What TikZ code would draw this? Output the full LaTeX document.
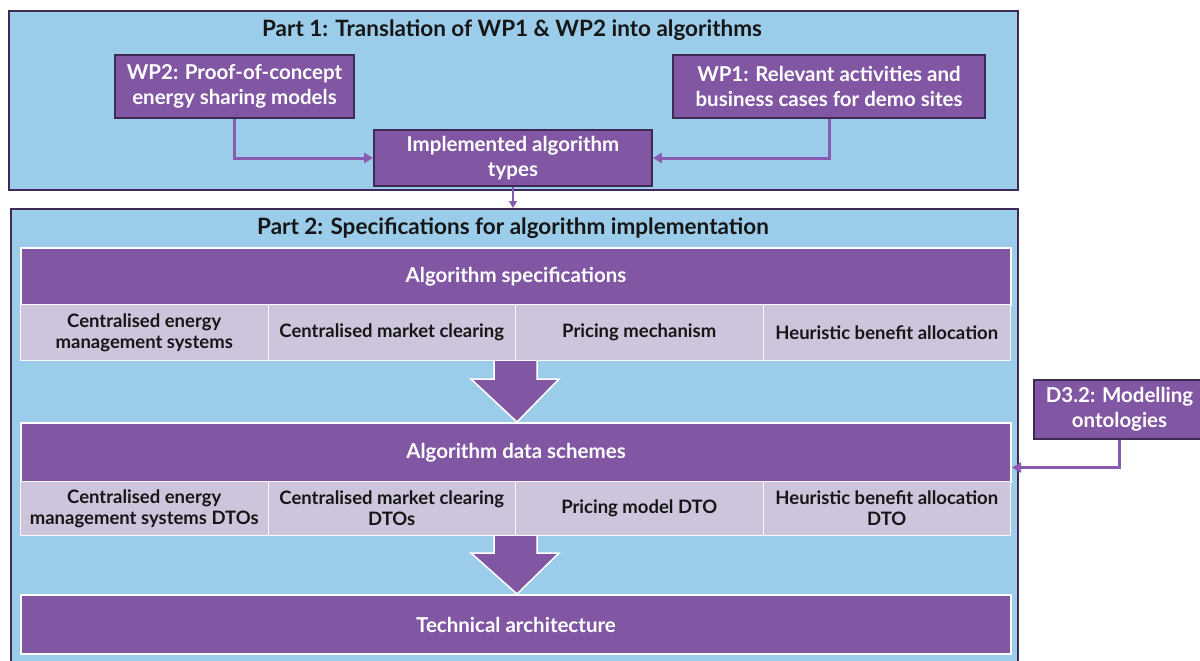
\documentclass[tikz,border=0pt]{standalone}
\usepackage{fontspec}
\setmainfont{Lato}
\usetikzlibrary{arrows.meta,calc}
\definecolor{skyfill}{HTML}{9BCDEB}
\definecolor{plum}{HTML}{8157A4}
\definecolor{lavcell}{HTML}{CEC4DC}
\definecolor{darkedge}{HTML}{3D2B55}
\definecolor{linkpurple}{HTML}{8A5BB0}
\definecolor{inktext}{HTML}{161616}
\tikzset{
  partbox/.style={draw=darkedge, line width=2pt, fill=skyfill, anchor=north west, inner sep=0pt},
  parttitle/.style={font=\bfseries\fontsize{22.5}{26}\selectfont, text=inktext, inner sep=0pt},
  srcbox/.style={draw=darkedge, line width=1.8pt, fill=plum, text=white, align=center,
    font=\bfseries\fontsize{20.5}{25}\selectfont, inner sep=0pt},
  band/.style={draw=white, line width=2pt, fill=plum, text=white, anchor=north west,
    font=\bfseries\fontsize{20.5}{24}\selectfont, inner sep=0pt, minimum width=990pt},
  cell/.style={draw=white!88!lavcell, line width=1pt, fill=lavcell, text=inktext, align=center,
    anchor=north west, font=\bfseries\fontsize{18.5}{21}\selectfont, inner sep=0pt,
    minimum width=247.5pt},
  conn/.style={draw=linkpurple, line width=3pt, -{Triangle[length=9pt,width=10pt]}},
  blockarrow/.style={fill=plum, draw=white, line width=1.5pt, line join=miter},
}
\begin{document}
\begin{tikzpicture}[x=1pt,y=-1pt]
\useasboundingbox (0,0) rectangle (1200,661);
\clip (0,0) rectangle (1200,661);

% Part 1 frame
\node[partbox, minimum width=1009pt, minimum height=179pt] (p1) at (8,10) {};
\node[parttitle] (t1) at (512,30) {Part 1: Translation of WP1 \& WP2 into algorithms};

\node[srcbox, minimum width=239pt, minimum height=63pt] (wp2) at (234.5,86.5)
  {WP2: Proof-of-concept\\energy sharing models};
\node[srcbox, minimum width=312pt, minimum height=63pt] (wp1) at (829,86.5)
  {WP1: Relevant activities and\\business cases for demo sites};
\node[srcbox, minimum width=278pt, minimum height=56pt] (impl) at (513,158)
  {Implemented algorithm\\types};

% Part 2 frame (runs past the lower edge)
\node[partbox, minimum width=1007pt, minimum height=480pt] (p2) at (10,208) {};
\node[parttitle] (t2) at (513,228.5) {Part 2: Specifications for algorithm implementation};

% Algorithm specifications
\node[band, minimum height=57pt] (spec) at (20,247) {Algorithm specifications};
\node[cell, minimum height=56pt] (s1) at (20,304) {Centralised energy\\management systems};
\node[cell, minimum height=56pt] (s2) at (267.5,304) {Centralised market clearing};
\node[cell, minimum height=56pt] (s3) at (515,304) {Pricing mechanism};
\node[cell, minimum height=56pt] (s4) at (762.5,304) {Heuristic benefit allocation};

% Algorithm data schemes
\node[band, minimum height=59pt] (data) at (20,422) {Algorithm data schemes};
\node[cell, minimum height=54pt] (d1) at (20,481) {Centralised energy\\management systems DTOs};
\node[cell, minimum height=54pt] (d2) at (267.5,481) {Centralised market clearing\\DTOs};
\node[cell, minimum height=54pt] (d3) at (515,481) {Pricing model DTO};
\node[cell, minimum height=54pt] (d4) at (762.5,481) {Heuristic benefit allocation\\DTO};

% Technical architecture
\node[band, minimum height=59pt] (tech) at (20,594) {Technical architecture};

% External input
\node[srcbox, minimum width=171pt, minimum height=59pt] (d32) at (1119.5,409.5)
  {D3.2: Modelling\\ontologies};

% Block arrows between the stages
\draw[blockarrow] ($(s3.south west)+(-21,0)$) -- ++(0,18) -- ++(-23,0)
  -- ($(data.north)+(1,0)$) -- ($(s3.south west)+(44,18)$) -- ++(-22,0) -- ++(0,-18);
\draw[blockarrow] ($(d3.south west)+(-21,0)$) -- ++(0,17) -- ++(-23,0)
  -- ($(tech.north)+(1,0)$) -- ($(d3.south west)+(44,17)$) -- ++(-22,0) -- ++(0,-17);

% Connectors
\draw[conn] (wp2.south) |- (impl.west);
\draw[conn] (wp1.south) |- (impl.east);
\draw[conn, line width=2.5pt, -{Triangle[length=7pt,width=8pt]}] (impl.south) -- (impl.south |- p2.north);
\draw[conn] (d32.south) |- ($(data.east)+(0,15)$);
\end{tikzpicture}
\end{document}
